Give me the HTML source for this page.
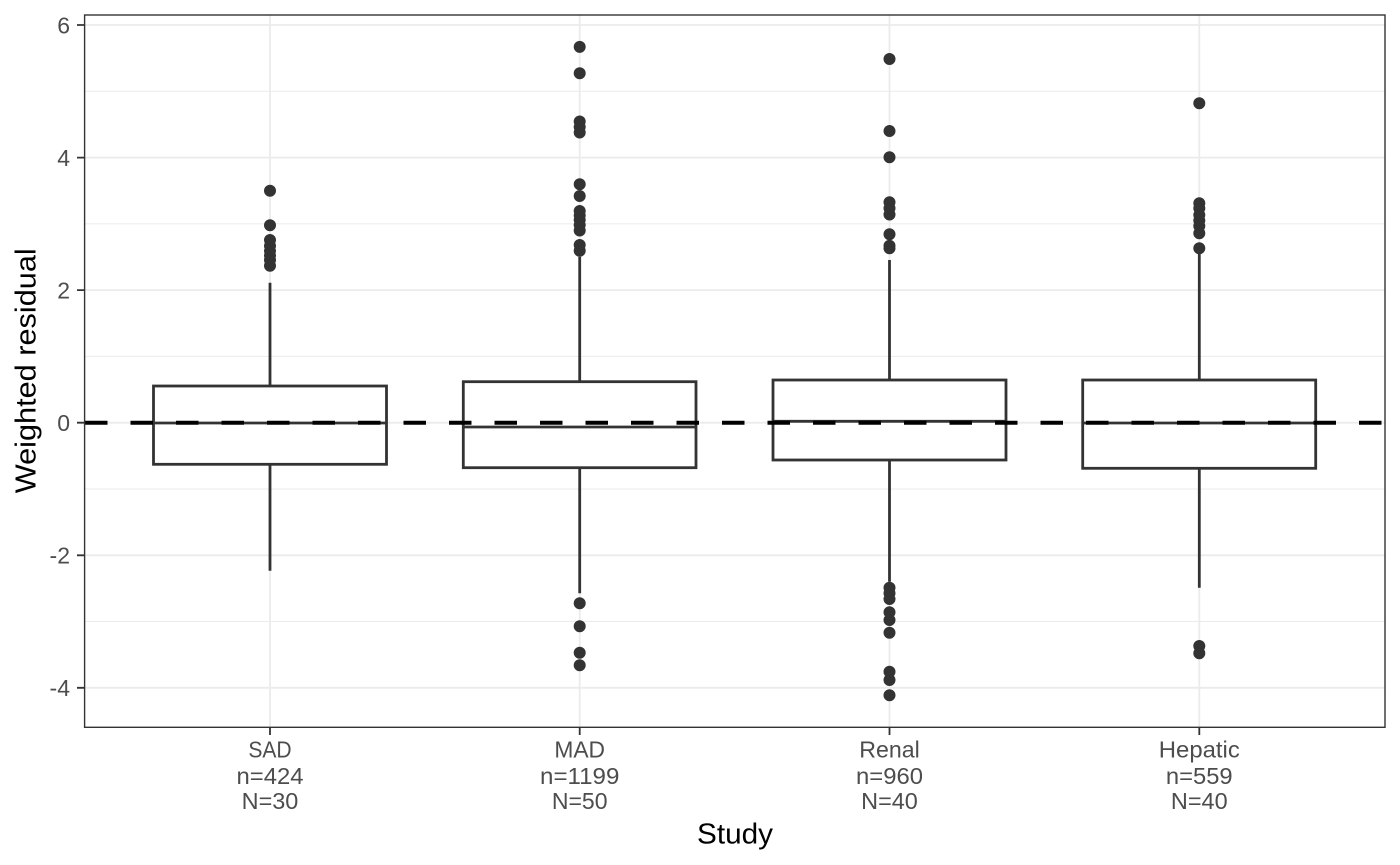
<!DOCTYPE html>
<html><head><meta charset="utf-8"><style>
html,body{margin:0;padding:0;background:#fff;}
svg{display:block;}
text{font-family:"Liberation Sans",sans-serif;}
</style></head><body>
<svg width="1400" height="865" viewBox="0 0 1400 865" xmlns="http://www.w3.org/2000/svg">
<rect x="0" y="0" width="1400" height="865" fill="#fff"/>
<path d="M85 91.3H1385M85 223.9H1385M85 356.4H1385M85 489H1385M85 621.5H1385" stroke="#EBEBEB" stroke-width="1" fill="none"/>
<path d="M85 25H1385M85 157.6H1385M85 290.1H1385M85 422.7H1385M85 555.3H1385M85 687.8H1385M270 15V727M579.7 15V727M889.5 15V727M1199.3 15V727" stroke="#EBEBEB" stroke-width="1.8" fill="none"/>
<g stroke="#333333" stroke-width="2.8" fill="#fff">
<path d="M270 386V282.7M270 464.3V570.7M579.7 381.7V256.7M579.7 467.7V593.3M889.5 380V260M889.5 460V581.7M1199.3 380V250M1199.3 468.3V587.7" fill="none"/>
<rect x="153.5" y="386" width="233" height="78.3"/>
<rect x="463.3" y="381.7" width="232.7" height="86"/>
<rect x="773" y="380" width="233" height="80"/>
<rect x="1082.7" y="380" width="233" height="88.3"/>
<path d="M153.5 423H386.5M463.3 427H696M773 421.3H1006M1082.7 423H1315.7" fill="none"/>
</g>
<path fill="none" stroke="#333333" stroke-width="12" stroke-linecap="round" d="M270 190.7h0M270 225.3h0M270 240h0M270 246h0M270 251h0M270 255.5h0M270 260h0M270 265.7h0
M579.7 46.9h0M579.7 73.2h0M579.7 121.5h0M579.7 127h0M579.7 132.5h0M579.7 184.3h0M579.7 196h0M579.7 211h0M579.7 215.5h0M579.7 220h0M579.7 225h0M579.7 230.5h0M579.7 245h0M579.7 250.7h0M579.7 603.3h0M579.7 626.3h0M579.7 652.7h0M579.7 665.3h0
M889.5 59h0M889.5 131h0M889.5 157.3h0M889.5 202.3h0M889.5 208.3h0M889.5 214.5h0M889.5 234.3h0M889.5 245.7h0M889.5 248.3h0M889.5 587.7h0M889.5 593.3h0M889.5 599h0M889.5 612.3h0M889.5 620h0M889.5 632.7h0M889.5 671.7h0M889.5 680h0M889.5 695.3h0
M1199.3 103.3h0M1199.3 203.3h0M1199.3 208.3h0M1199.3 215h0M1199.3 220.5h0M1199.3 226h0M1199.3 233.3h0M1199.3 248.3h0M1199.3 646h0M1199.3 653.3h0"/>
<line x1="85" x2="1385" y1="422.7" y2="422.7" stroke="#000" stroke-width="4" stroke-dasharray="22.5 23"/>
<rect x="84.6" y="15" width="1300.4" height="712.3" fill="none" stroke="#333333" stroke-width="1.4"/>
<path d="M77 25H84M77 157.6H84M77 290.1H84M77 422.7H84M77 555.3H84M77 687.8H84M270 728V735M579.7 728V735M889.5 728V735M1199.3 728V735" stroke="#333333" stroke-width="1.8" fill="none"/>
<g fill="#4D4D4D" font-size="23" text-anchor="end">
<text x="70" y="33.3">6</text>
<text x="70" y="165.9">4</text>
<text x="70" y="298.4">2</text>
<text x="70" y="431">0</text>
<text x="70" y="563.6">-2</text>
<text x="70" y="696.1">-4</text>
</g>
<g fill="#4D4D4D" font-size="23" text-anchor="middle">
<text x="270" y="757.3" textLength="43.3" lengthAdjust="spacingAndGlyphs">SAD</text>
<text x="270" y="784" textLength="67" lengthAdjust="spacingAndGlyphs">n=424</text>
<text x="270" y="809" textLength="56.7" lengthAdjust="spacingAndGlyphs">N=30</text>
<text x="579.7" y="757.3" textLength="50.7" lengthAdjust="spacingAndGlyphs">MAD</text>
<text x="579.7" y="784" textLength="79.3" lengthAdjust="spacingAndGlyphs">n=1199</text>
<text x="579.7" y="809" textLength="55.7" lengthAdjust="spacingAndGlyphs">N=50</text>
<text x="889.5" y="757.3" textLength="60.5" lengthAdjust="spacingAndGlyphs">Renal</text>
<text x="889.5" y="784" textLength="67" lengthAdjust="spacingAndGlyphs">n=960</text>
<text x="889.5" y="809" textLength="56.7" lengthAdjust="spacingAndGlyphs">N=40</text>
<text x="1199.3" y="757.3" textLength="81" lengthAdjust="spacingAndGlyphs">Hepatic</text>
<text x="1199.3" y="784" textLength="66.7" lengthAdjust="spacingAndGlyphs">n=559</text>
<text x="1199.3" y="809" textLength="56.7" lengthAdjust="spacingAndGlyphs">N=40</text>
</g>
<text x="735" y="843.3" font-size="29" text-anchor="middle" fill="#000" textLength="76" lengthAdjust="spacingAndGlyphs">Study</text>
<text transform="translate(35.5,370.8) rotate(-90)" x="0" y="0" font-size="29" text-anchor="middle" fill="#000" textLength="245" lengthAdjust="spacingAndGlyphs">Weighted residual</text>
</svg>
</body></html>
